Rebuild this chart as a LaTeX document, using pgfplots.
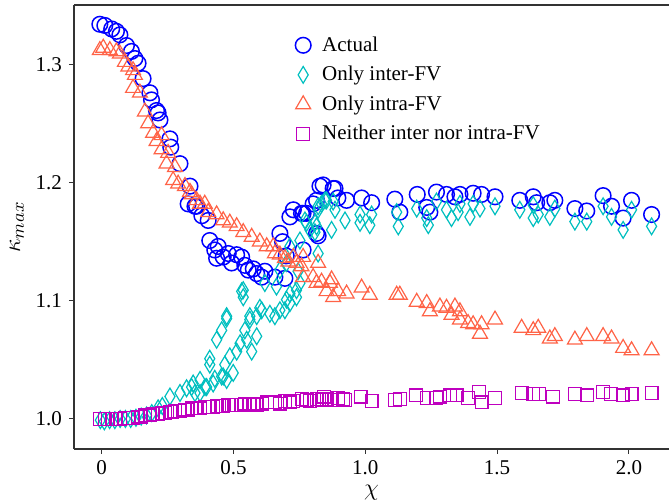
\documentclass[border=0pt]{standalone}
\usepackage{fontspec}
\setmainfont{Liberation Serif}
\usepackage{pgfplots}
\usepackage{pgfplotstable}
\pgfplotsset{compat=1.18}
\usetikzlibrary{calc}
\definecolor{cAct}{RGB}{0,0,255}
\definecolor{cInter}{RGB}{0,191,191}
\definecolor{cIntra}{RGB}{255,99,71}
\definecolor{cNeither}{RGB}{191,0,191}

% Actual
\pgfplotstableread{
x y
-0.007 1.334
0.012 1.333
0.038 1.330
0.056 1.328
0.069 1.325
0.094 1.316
0.113 1.311
0.126 1.305
0.138 1.301
0.157 1.288
0.183 1.276
0.189 1.270
0.208 1.261
0.214 1.259
0.221 1.253
0.259 1.237
0.262 1.230
0.297 1.216
0.335 1.197
0.328 1.182
0.354 1.180
0.360 1.180
0.380 1.172
0.404 1.168
0.410 1.151
0.429 1.143
0.436 1.136
0.442 1.146
0.461 1.137
0.480 1.140
0.493 1.132
0.512 1.139
0.531 1.137
0.543 1.130
0.556 1.126
0.575 1.127
0.588 1.123
0.607 1.120
0.619 1.125
0.657 1.120
0.676 1.157
0.686 1.150
0.695 1.119
0.700 1.138
0.714 1.171
0.727 1.177
0.758 1.174
0.764 1.143
0.764 1.174
0.777 1.174
0.802 1.182
0.815 1.157
0.815 1.185
0.821 1.155
0.828 1.197
0.840 1.198
0.878 1.195
0.885 1.195
0.896 1.187
0.929 1.185
0.986 1.187
1.024 1.183
1.112 1.186
1.131 1.175
1.197 1.190
1.233 1.179
1.245 1.175
1.270 1.192
1.308 1.190
1.340 1.188
1.359 1.190
1.409 1.191
1.441 1.190
1.492 1.188
1.586 1.185
1.637 1.188
1.650 1.183
1.700 1.183
1.719 1.185
1.795 1.178
1.840 1.176
1.902 1.189
1.934 1.180
1.978 1.170
2.010 1.185
2.086 1.173
}\actual

% Only inter-FV
\pgfplotstableread{
x y
-0.005 0.999
0.010 0.998
0.030 0.999
0.050 0.999
0.070 1.000
0.090 1.000
0.110 1.000
0.130 1.001
0.150 1.002
0.170 1.003
0.190 1.005
0.214 1.009
0.230 1.011
0.259 1.019
0.297 1.022
0.322 1.026
0.341 1.027
0.347 1.030
0.354 1.022
0.373 1.033
0.373 1.022
0.392 1.027
0.398 1.027
0.410 1.051
0.410 1.046
0.423 1.030
0.429 1.034
0.436 1.067
0.455 1.075
0.455 1.036
0.461 1.036
0.467 1.046
0.474 1.085
0.474 1.087
0.474 1.033
0.486 1.053
0.499 1.039
0.512 1.057
0.525 1.064
0.531 1.108
0.537 1.109
0.537 1.103
0.543 1.075
0.550 1.067
0.562 1.084
0.562 1.087
0.569 1.057
0.588 1.087
0.588 1.070
0.600 1.094
0.607 1.092
0.619 1.115
0.638 1.089
0.657 1.087
0.663 1.112
0.676 1.092
0.676 1.126
0.695 1.092
0.701 1.101
0.701 1.132
0.714 1.106
0.714 1.098
0.714 1.146
0.739 1.109
0.739 1.103
0.745 1.125
0.752 1.115
0.752 1.151
0.771 1.168
0.777 1.166
0.790 1.160
0.809 1.166
0.809 1.158
0.815 1.163
0.821 1.177
0.821 1.180
0.821 1.140
0.834 1.182
0.847 1.185
0.853 1.185
0.872 1.160
0.878 1.184
0.885 1.177
0.923 1.168
0.980 1.166
0.980 1.173
1.017 1.164
1.024 1.173
1.119 1.175
1.125 1.163
1.195 1.178
1.233 1.170
1.239 1.164
1.270 1.184
1.308 1.177
1.327 1.170
1.352 1.175
1.359 1.182
1.397 1.171
1.409 1.182
1.435 1.178
1.492 1.180
1.586 1.177
1.637 1.170
1.637 1.181
1.656 1.173
1.700 1.171
1.719 1.178
1.795 1.167
1.840 1.167
1.902 1.180
1.934 1.171
1.978 1.160
2.010 1.177
2.086 1.163
}\inter

% Only intra-FV
\pgfplotstableread{
x y
-0.007 1.312
0.006 1.314
0.031 1.312
0.056 1.311
0.069 1.309
0.088 1.302
0.101 1.298
0.119 1.295
0.126 1.291
0.119 1.280
0.145 1.276
0.164 1.260
0.176 1.250
0.195 1.242
0.208 1.235
0.227 1.240
0.227 1.228
0.246 1.216
0.252 1.225
0.271 1.202
0.278 1.213
0.290 1.199
0.316 1.197
0.335 1.192
0.341 1.190
0.360 1.185
0.373 1.182
0.391 1.182
0.404 1.175
0.436 1.173
0.461 1.168
0.486 1.166
0.512 1.163
0.537 1.158
0.569 1.154
0.600 1.150
0.626 1.146
0.651 1.146
0.657 1.140
0.676 1.139
0.695 1.136
0.708 1.133
0.727 1.137
0.739 1.132
0.758 1.129
0.764 1.137
0.764 1.120
0.802 1.120
0.815 1.115
0.821 1.132
0.834 1.116
0.853 1.108
0.866 1.115
0.872 1.118
0.878 1.103
0.897 1.108
0.929 1.106
0.986 1.111
1.017 1.105
1.119 1.105
1.131 1.105
1.195 1.099
1.233 1.098
1.245 1.091
1.283 1.095
1.308 1.094
1.327 1.088
1.340 1.095
1.359 1.091
1.359 1.084
1.390 1.081
1.409 1.080
1.435 1.072
1.441 1.080
1.492 1.084
1.593 1.077
1.637 1.075
1.656 1.077
1.700 1.068
1.719 1.070
1.795 1.067
1.840 1.070
1.902 1.070
1.934 1.068
1.978 1.060
2.010 1.058
2.086 1.058
}\intra

% Neither inter nor intra-FV
\pgfplotstableread{
x y
-0.007 1.000
0.012 1.000
0.025 1.000
0.038 1.000
0.056 1.000
0.069 1.000
0.088 1.001
0.101 1.001
0.119 1.001
0.138 1.002
0.151 1.002
0.164 1.003
0.183 1.003
0.195 1.004
0.214 1.004
0.227 1.005
0.240 1.005
0.259 1.006
0.265 1.006
0.278 1.007
0.297 1.007
0.316 1.008
0.328 1.008
0.341 1.009
0.360 1.009
0.373 1.009
0.391 1.010
0.404 1.010
0.423 1.010
0.436 1.011
0.455 1.011
0.461 1.011
0.480 1.012
0.493 1.012
0.512 1.012
0.531 1.012
0.543 1.013
0.562 1.012
0.575 1.013
0.588 1.012
0.607 1.013
0.626 1.014
0.657 1.014
0.676 1.013
0.695 1.015
0.714 1.014
0.727 1.015
0.758 1.017
0.777 1.016
0.790 1.015
0.815 1.017
0.834 1.016
0.844 1.019
0.853 1.017
0.872 1.016
0.897 1.018
0.915 1.017
0.923 1.016
0.982 1.019
1.024 1.015
1.112 1.016
1.131 1.017
1.192 1.020
1.235 1.018
1.270 1.018
1.283 1.019
1.321 1.020
1.346 1.020
1.390 1.018
1.432 1.023
1.441 1.014
1.492 1.018
1.593 1.022
1.637 1.021
1.660 1.021
1.713 1.019
1.795 1.021
1.840 1.020
1.902 1.023
1.931 1.021
1.976 1.020
2.010 1.021
2.086 1.022
}\neither

\begin{document}
\begin{tikzpicture}
\begin{axis}[
    width=297.5pt, height=222pt, scale only axis,
    xmin=-0.105, xmax=2.152,
    ymin=0.9746, ymax=1.3503,
    axis x line*=bottom, axis y line*=left,
    axis line style={-, black!80, line width=0.6pt},
    tick align=outside, major tick length=2.5pt,
    tick style={black!80, line width=0.5pt},
    xtick={0,0.5,1,1.5,2}, xticklabels={0,0.5,1.0,1.5,2.0},
    ytick={1,1.1,1.2,1.3}, yticklabels={1.0,1.1,1.2,1.3},
    /pgf/number format/assume math mode=true,
    ticklabel style={font=\fontsize{10.5}{12}\selectfont, inner sep=1pt},
    xticklabel style={yshift=-2.3pt},
    yticklabel style={xshift=-2.3pt},
    xlabel={$\chi$}, ylabel={$\kappa_{max}$},
    every axis x label/.style={at={(axis description cs:0.5,-0.098)}, anchor=center,
        inner sep=0pt, font=\fontsize{13}{15}\selectfont},
    every axis y label/.style={at={(axis description cs:-0.096,0.5)}, anchor=center, rotate=90,
        inner sep=0pt, font=\fontsize{13}{15}\selectfont},
    legend cell align=left,
    legend image code/.code={\path[draw=none, fill=none] (-4pt,0pt) rectangle (7.5pt,0.1pt);
        \draw[#1] plot coordinates {(0pt,0pt)};},
    legend style={draw=none, fill=none, at={(axis description cs:0.361,0.948)}, anchor=north west,
        font=\fontsize{10.5}{12}\selectfont, row sep=2pt},
]
\addplot[only marks, mark=o, mark size=3.9pt, mark options={draw=cAct, line width=0.75pt}] table {\actual};
\addlegendentry{Actual}
\addplot[only marks, mark=diamond, mark size=4.2pt, mark options={draw=cInter, line width=0.6pt, xscale=0.8}] table {\inter};
\addlegendentry{Only inter-FV}
\addplot[only marks, mark=triangle, mark size=4.3pt, mark options={draw=cIntra, line width=0.6pt}] table {\intra};
\addlegendentry{Only intra-FV}
\addplot[only marks, mark=square, mark size=3.2pt, mark options={draw=cNeither, line width=0.6pt}] table {\neither};
\addlegendentry{Neither inter nor intra-FV}
\coordinate (bl) at (rel axis cs:0,0);
\coordinate (tr) at (rel axis cs:1,1);
\coordinate (tl) at (rel axis cs:0,1);
\end{axis}
\draw[black!80, line width=0.6pt] (tl) -- (tr);
\pgfresetboundingbox
\path[use as bounding box] ($(bl)+(-37pt,-26pt)$) rectangle ($(tr)+(0,2.5pt)$);
\end{tikzpicture}
\end{document}
